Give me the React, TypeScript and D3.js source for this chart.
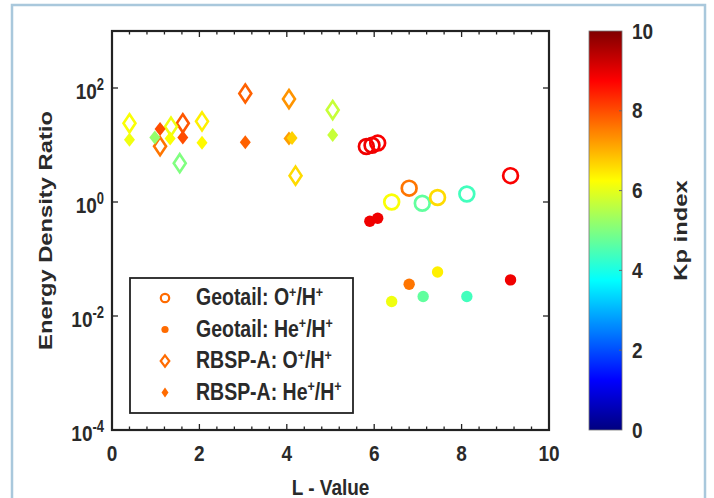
import React from "react";
import * as d3 from "d3";

const W = 714;
const H = 498;

// Axis ticks
const xMajorTicks = [0, 2, 4, 6, 8, 10];
const yLabelExponents = [-4, -2, 0, 2];
const kpTicks = [0, 2, 4, 6, 8, 10];

// Geotail O+/H+ (open circles)
const geoO_L = [5.82, 5.95, 6.08, 6.4, 6.8, 7.1, 7.45, 8.12, 9.12];
const geoO_ratio = [9.4, 9.9, 10.8, 1.0, 1.75, 0.95, 1.2, 1.38, 2.9];
const geoO_kp = [8.9, 8.9, 8.8, 6.2, 7.6, 4.7, 6.6, 4.4, 8.8];

// Geotail He+/H+ (filled dots)
const geoHe_L = [5.9, 6.08, 6.4, 6.8, 7.12, 7.45, 8.12, 9.12];
const geoHe_ratio = [0.46, 0.52, 0.018, 0.036, 0.022, 0.059, 0.022, 0.043];
const geoHe_kp = [8.9, 8.9, 6.1, 7.6, 4.7, 6.4, 4.4, 8.9];

// RBSP-A O+/H+ (open diamonds)
const rbO_L = [0.4, 1.1, 1.62, 2.06, 1.55, 1.35, 3.05, 4.05, 5.05, 4.2];
const rbO_ratio = [24, 9.5, 24, 26, 4.8, 21, 80, 64, 41, 2.9];
const rbO_kp = [6.2, 7.6, 7.9, 6.4, 5.0, 6.1, 7.8, 7.3, 5.7, 6.6];

// RBSP-A He+/H+ (filled diamonds)
const rbHe_L = [0.4, 1.1, 1.62, 0.98, 1.33, 2.06, 3.05, 4.05, 4.12, 5.05];
const rbHe_ratio = [12.4, 19, 13.5, 13.5, 13, 11, 11.2, 13, 13.3, 15];
const rbHe_kp = [6.1, 8.0, 8.0, 5.2, 6.2, 6.3, 7.8, 7.2, 6.7, 5.7];

const legendKp = 7.7;

// MATLAB-style jet colormap
function jet(t: number): string {
  const c = (v: number) => Math.max(0, Math.min(1, v));
  const r = c(1.5 - Math.abs(4 * t - 3));
  const g = c(1.5 - Math.abs(4 * t - 2));
  const b = c(1.5 - Math.abs(4 * t - 1));
  return d3.rgb(r * 255, g * 255, b * 255).formatHex();
}

const FONT = "'Liberation Sans', Arial, sans-serif";
const AXIS = "#222";
const TEXT = "#2a2a2a";
const STRETCH = 1.2; // glyphs are drawn taller than wide

const left = 112;
const right = 549;
const top = 31;
const bottom = 430;

const x = d3.scaleLinear().domain([0, 10]).range([left, right]);
const y = d3.scaleLog().domain([1e-4, 1e3]).range([bottom, top]);
const kpScale = d3.scaleLinear().domain([0, 10]).range([bottom, top]);
const color = (kp: number) => jet(kp / 10);

const cbLeft = 589;
const cbRight = 622;

function diamondPath(cx: number, cy: number, hw: number, hh: number) {
  return `M${cx},${cy - hh}L${cx + hw},${cy}L${cx},${cy + hh}L${cx - hw},${cy}Z`;
}

type TProps = {
  x: number;
  y: number;
  size?: number;
  anchor?: "start" | "middle" | "end";
  rotate?: boolean;
  children: React.ReactNode;
};

// Bold label, stretched vertically on the page
function T({ x: tx, y: ty, size = 19, anchor = "start", rotate = false, children }: TProps) {
  const tf = rotate
    ? `translate(${tx},${ty}) rotate(-90) scale(${STRETCH + 0.05},1)`
    : `translate(${tx},${ty}) scale(1,${STRETCH})`;
  return (
    <text transform={tf} textAnchor={anchor} fontFamily={FONT} fontWeight="bold" fontSize={size} fill={TEXT}>
      {children}
    </text>
  );
}

export default function App() {
  const minorX = d3.range(0, 10.0001, 0.4).map((v) => +v.toFixed(2));
  const gradStops = d3.range(0, 65).map((i) => i / 64);

  const legendItems = [
    { kind: "circle", label: "Geotail: O" },
    { kind: "dot", label: "Geotail: He" },
    { kind: "diamond", label: "RBSP-A: O" },
    { kind: "fdiamond", label: "RBSP-A: He" },
  ];
  const lx = 130;
  const ly = 278;
  const lw = 223;
  const lh = 135;
  const lc = color(legendKp);

  return (
    <div style={{ position: "absolute", left: 0, top: 0 }}>
      <svg width={W} height={H} viewBox={`0 0 ${W} ${H}`} style={{ display: "block", background: "#fff" }}>
        <defs>
          <linearGradient id="jetGrad" x1="0" y1="1" x2="0" y2="0">
            {gradStops.map((t) => (
              <stop key={t} offset={t} stopColor={jet(t)} />
            ))}
          </linearGradient>
        </defs>

        {/* outer frame */}
        <rect x={12} y={5} width={693} height={510} fill="none" stroke="#a9c8dc" strokeWidth={2.5} />

        {/* x ticks (bottom and top, inward) */}
        {minorX.map((v) => {
          const major = xMajorTicks.some((m) => Math.abs(m - v) < 1e-6);
          const len = major ? 6 : 3.5;
          return (
            <g key={`xt${v}`} stroke={AXIS} strokeWidth={1.3}>
              <line x1={x(v)} x2={x(v)} y1={bottom} y2={bottom - len} />
              <line x1={x(v)} x2={x(v)} y1={top} y2={top + len} />
            </g>
          );
        })}
        {/* y ticks */}
        {yLabelExponents.map((e) => (
          <g key={`yt${e}`} stroke={AXIS} strokeWidth={1.3}>
            <line x1={left} x2={left + 6} y1={y(10 ** e)} y2={y(10 ** e)} />
            <line x1={right} x2={right - 6} y1={y(10 ** e)} y2={y(10 ** e)} />
          </g>
        ))}

        {/* RBSP-A O+/H+ */}
        {rbO_L.map((L, i) => (
          <path
            key={`ro${i}`}
            d={diamondPath(x(L), y(rbO_ratio[i]), 6, 9)}
            fill="none"
            stroke={color(rbO_kp[i])}
            strokeWidth={2.6}
          />
        ))}
        {/* RBSP-A He+/H+ */}
        {rbHe_L.map((L, i) => (
          <path key={`rh${i}`} d={diamondPath(x(L), y(rbHe_ratio[i]), 5.5, 7)} fill={color(rbHe_kp[i])} />
        ))}
        {/* Geotail O+/H+ */}
        {geoO_L.map((L, i) => (
          <circle
            key={`go${i}`}
            cx={x(L)}
            cy={y(geoO_ratio[i])}
            r={7.4}
            fill="none"
            stroke={color(geoO_kp[i])}
            strokeWidth={2.7}
          />
        ))}
        {/* Geotail He+/H+ */}
        {geoHe_L.map((L, i) => (
          <circle key={`gh${i}`} cx={x(L)} cy={y(geoHe_ratio[i])} r={5.7} fill={color(geoHe_kp[i])} />
        ))}

        {/* axes box */}
        <rect x={left} y={top} width={right - left} height={bottom - top} fill="none" stroke={AXIS} strokeWidth={2.2} />

        {/* x tick labels */}
        {xMajorTicks.map((v) => (
          <T key={`xl${v}`} x={x(v)} y={461} anchor="middle">
            {v}
          </T>
        ))}
        {/* y tick labels */}
        {yLabelExponents.map((e) => (
          <T key={`yl${e}`} x={104} y={y(10 ** e) + 10.5} anchor="end">
            <tspan>10</tspan>
            <tspan dy={-7.5} fontSize={13}>
              {String(e)}
            </tspan>
          </T>
        ))}

        {/* axis titles */}
        <T x={(left + right) / 2} y={495} anchor="middle">
          L - Value
        </T>
        <T x={52} y={(top + bottom) / 2} anchor="middle" rotate>
          Energy Density Ratio
        </T>

        {/* legend */}
        <rect x={lx} y={ly} width={lw} height={lh} fill="#fff" stroke="#222" strokeWidth={1.8} />
        {legendItems.map((it, i) => {
          const cy = ly + 20 + i * 31.5;
          const mx = 165;
          let marker;
          if (it.kind === "circle") marker = <circle cx={mx} cy={cy} r={4.2} fill="none" stroke={lc} strokeWidth={2.2} />;
          else if (it.kind === "dot") marker = <circle cx={mx} cy={cy} r={3.6} fill={lc} />;
          else if (it.kind === "diamond")
            marker = <path d={diamondPath(mx, cy, 4.3, 5.6)} fill="none" stroke={lc} strokeWidth={2.2} />;
          else marker = <path d={diamondPath(mx, cy, 3.5, 5)} fill={lc} />;
          return (
            <g key={`lg${i}`}>
              {marker}
              <T x={196} y={cy + 7} size={19.5}>
                <tspan>{it.label}</tspan>
                <tspan dy={-7} fontSize={12.5}>+</tspan>
                <tspan dy={7}>/H</tspan>
                <tspan dy={-7} fontSize={12.5}>+</tspan>
              </T>
            </g>
          );
        })}

        {/* colorbar */}
        <rect x={cbLeft} y={top} width={cbRight - cbLeft} height={bottom - top} fill="url(#jetGrad)" stroke="#777" strokeWidth={0.8} />
        {kpTicks.map((v) => (
          <g key={`kp${v}`}>
            {v !== 0 && v !== 10 && (
              <line x1={cbRight} x2={cbRight - 3} y1={kpScale(v)} y2={kpScale(v)} stroke="#666" strokeWidth={1} />
            )}
            <T x={632} y={kpScale(v) + 7.5}>
              {v}
            </T>
          </g>
        ))}
        <T x={687} y={(top + bottom) / 2} anchor="middle" rotate>
          Kp index
        </T>
      </svg>
    </div>
  );
}
